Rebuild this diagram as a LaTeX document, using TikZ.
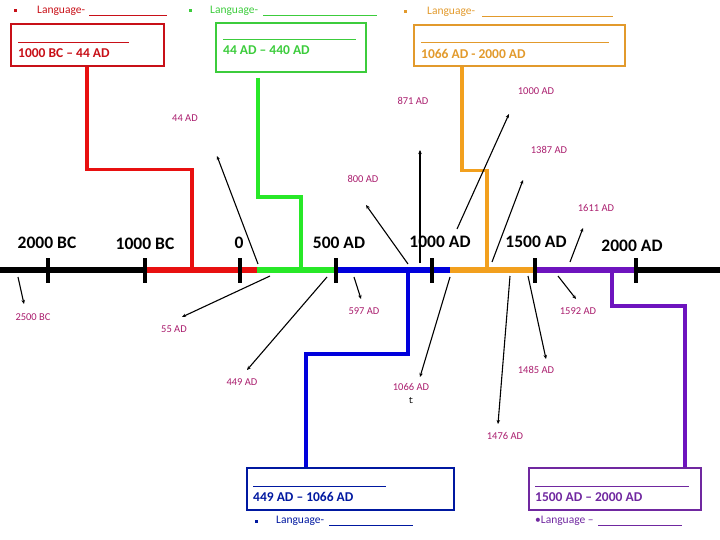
\documentclass[tikz,border=0pt]{standalone}
\usepackage{fontspec}
\setmainfont{Carlito}
\newfontfamily\monofont{Liberation Mono}
\usetikzlibrary{arrows.meta}
\definecolor{cRedL}{RGB}{232,16,16}
\definecolor{cRedT}{RGB}{200,16,24}
\definecolor{cGreenL}{RGB}{40,232,40}
\definecolor{cGreenT}{RGB}{60,204,60}
\definecolor{cOrangeL}{RGB}{242,160,30}
\definecolor{cOrangeT}{RGB}{226,154,44}
\definecolor{cBlueL}{RGB}{0,0,220}
\definecolor{cBlueT}{RGB}{0,24,160}
\definecolor{cPurpleL}{RGB}{110,20,190}
\definecolor{cPurpleT}{RGB}{112,40,160}
\definecolor{cEvent}{RGB}{170,30,110}
\tikzset{
  tl/.style={line width=5.5pt},
  tick/.style={line width=4.5pt},
  conn/.style={line width=3.2pt},
  period/.style={draw, line width=2.4pt, inner sep=0pt, anchor=north west},
  blank/.style={line width=0.7pt},
  ticklab/.style={font=\fontsize{17.5}{20}\selectfont\bfseries, text=black, inner sep=0pt},
  datelab/.style={font=\fontsize{13.5}{16}\selectfont\bfseries, inner sep=0pt, anchor=west},
  langlab/.style={font=\fontsize{11.5}{14}\selectfont, inner sep=0pt, anchor=west},
  evlab/.style={font=\fontsize{10.5}{12}\selectfont, text=cEvent, inner sep=0pt},
  evarr/.style={line width=1.1pt, -{Stealth[length=4pt,width=3.5pt]}},
  bul/.style={fill, inner sep=0pt, minimum size=3pt, shape=rectangle},
}
\begin{document}
\begin{tikzpicture}[x=1pt,y=-1pt]
\useasboundingbox (0,0) rectangle (720,540);

% ---- timeline points
\coordinate (t0) at (0,270);
\coordinate (tA) at (145,270);
\coordinate (tB) at (257,270);
\coordinate (tC) at (336,270);
\coordinate (tD) at (450,270);
\coordinate (tE) at (535,270);
\coordinate (tF) at (636,270);
\coordinate (tG) at (720,270);

% ---- connectors (drawn before timeline)
\node[period, draw=cRedT, minimum width=153pt, minimum height=42pt] (redbox) at (10,23) {};
\node[period, draw=cGreenT, minimum width=150pt, minimum height=49pt] (greenbox) at (215,22) {};
\node[period, draw=cOrangeT, minimum width=211pt, minimum height=41pt] (orangebox) at (413,24) {};
\node[period, draw=cBlueT, minimum width=207pt, minimum height=42pt] (bluebox) at (246,467) {};
\node[period, draw=cPurpleT, minimum width=172pt, minimum height=42pt] (purplebox) at (528,467) {};

\coordinate (redj) at (192,270);
\coordinate (greenj) at (301,270);
\coordinate (greenst) at (258,78);
\coordinate (orangej) at (487,270);
\coordinate (bluej) at (408,270);
\coordinate (purplej) at (612,270);

\draw[conn, cRedL] (redbox.south west) ++(77,0) -- ++(0,102) -| (redj);
\draw[conn, cGreenL] (greenst) -- ++(0,119) -| (greenj);
\draw[conn, cOrangeL] (orangebox.south west) ++(49,0) -- ++(0,103) -| (orangej);
\draw[conn, cBlueL] (bluej) -- ++(0,84) -| (bluebox.north west -| 306,0);
\draw[conn, cPurpleL] (purplej) -- ++(0,36) -| (purplebox.north west -| 685,0);

% ---- timeline
\draw[tl, black] (t0) -- (tA);
\draw[tl, cRedL] (tA) -- (tB);
\draw[tl, cGreenL] (tB) -- (tC);
\draw[tl, cBlueL] (tC) -- (tD);
\draw[tl, cOrangeL] (tD) -- (tE);
\draw[tl, cPurpleL] (tE) -- (tF);
\draw[tl, black] (tF) -- (tG);

% ---- ticks
\foreach \x in {48,145,240,336,432,535,636}{
  \draw[tick] (\x,258) -- (\x,283);
}
\node[ticklab] (l2000bc) at (47,243) {2000 BC};
\node[ticklab] (l1000bc) at (145,244) {1000 BC};
\node[ticklab] (l0) at (239,243) {0};
\node[ticklab] (l500) at (339,243) {500 AD};
\node[ticklab] (l1000) at (440,241.5) {1000 AD};
\node[ticklab] (l1500) at (536,242) {1500 AD};
\node[ticklab] (l2000) at (632,245.5) {2000 AD};

% ---- box contents
\draw[blank, cRedT] (18,42) -- (129,42);
\node[datelab, text=cRedT] (dred) at (18,53) {1000 BC – 44 AD};
\draw[blank, cGreenT] (223,39) -- (356,39);
\node[datelab, text=cGreenT] (dgreen) at (223,50.5) {44 AD – 440 AD};
\draw[blank, cOrangeT] (421,42) -- (609,42);
\node[datelab, text=cOrangeT] (dorange) at (421,53.5) {1066 AD - 2000 AD};
\draw[blank, cBlueT] (253,486) -- (386,486);
\node[datelab, text=cBlueT] (dblue) at (253,497) {449 AD – 1066 AD};
\draw[blank, cPurpleT] (535,486) -- (689,486);
\node[datelab, text=cPurpleT] (dpurple) at (535,497) {1500 AD – 2000 AD};

% ---- language lines
\node[bul, cRedT] (bred) at (15,11) {};
\node[langlab, text=cRedT] (lgred) at (37,11) {Language-};
\draw[blank, cRedT] (89,15) -- (167,15);
\node[bul, cGreenT] (bgreen) at (190,11) {};
\node[langlab, text=cGreenT] (lggreen) at (210,11) {Language-};
\draw[blank, cGreenT] (263,15) -- (377,15);
\node[bul, cOrangeT] (borange) at (405,12) {};
\node[langlab, text=cOrangeT] (lgorange) at (427,12) {Language-};
\draw[blank, cOrangeT] (482,16) -- (613,16);
\node[bul, cBlueT] (bblue) at (256,521) {};
\node[langlab, text=cBlueT] (lgblue) at (276,521) {Language-};
\draw[blank, cBlueT] (329,525) -- (413,525);
\node[langlab, text=cPurpleT] (lgpurple) at (535,521) {•Language –};
\draw[blank, cPurpleT] (598,525) -- (682,525);

% ---- event labels
\node[evlab] (e2500) at (33,317) {2500 BC};
\node[evlab] (e55) at (174,329) {55 AD};
\node[evlab] (e449) at (242,382) {449 AD};
\node[evlab] (e597) at (364,311) {597 AD};
\node[evlab] (e1066) at (411,387) {1066 AD};
\node[font=\monofont\fontsize{9}{10}\selectfont, inner sep=0pt] (et) at (411,401) {t};
\node[evlab] (e1476) at (505,436) {1476 AD};
\node[evlab] (e1485) at (536,370) {1485 AD};
\node[evlab] (e1592) at (578,311) {1592 AD};
\node[evlab] (e44) at (185,118) {44 AD};
\node[evlab] (e800) at (363,179) {800 AD};
\node[evlab] (e871) at (413,101) {871 AD};
\node[evlab] (e1000) at (536,91) {1000 AD};
\node[evlab] (e1387) at (549,150) {1387 AD};
\node[evlab] (e1611) at (596,208) {1611 AD};

% ---- event arrows
\coordinate (s2500) at (18,277);   \coordinate (h2500) at (24,304);
\coordinate (s55) at (270,276);    \coordinate (h55) at (182,317);
\coordinate (s449) at (327,277);   \coordinate (h449) at (247,370);
\coordinate (s597) at (354,277);   \coordinate (h597) at (361,299);
\coordinate (s1066) at (450,277);  \coordinate (h1066) at (420,377);
\coordinate (s1476) at (510,276);  \coordinate (h1476) at (498,424);
\coordinate (s1485) at (528,276);  \coordinate (h1485) at (546,359);
\coordinate (s1592) at (558,276);  \coordinate (h1592) at (576,299);
\coordinate (s44) at (258,264);    \coordinate (h44) at (217,156);
\coordinate (s800) at (408,264);   \coordinate (h800) at (366,205);
\coordinate (s871) at (420,263);   \coordinate (h871) at (420,150);
\coordinate (s1000) at (457,229);  \coordinate (h1000) at (509,114);
\coordinate (s1387) at (492,262);  \coordinate (h1387) at (523,180);
\coordinate (s1611) at (570,262);  \coordinate (h1611) at (583,228);
\foreach \n in {2500,55,449,597,1066,1476,1485,1592,44,800,871,1000,1387,1611}{
  \draw[evarr] (s\n) -- (h\n);
}
\end{tikzpicture}
\end{document}
